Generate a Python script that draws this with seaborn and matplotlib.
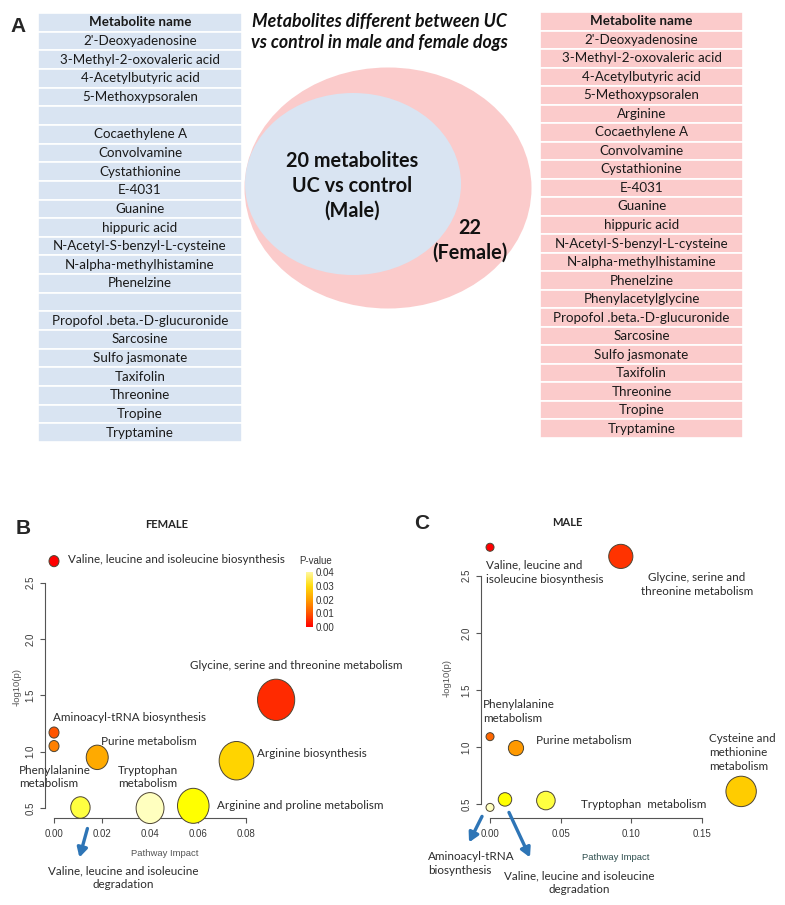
"""
Metabolites UC vs control in male / female dogs: tables, Venn and pathway bubble plots.
"""

import numpy as np
import pandas as pd
import matplotlib.pyplot as plt
import seaborn as sns
from matplotlib.patches import Ellipse, Rectangle
from matplotlib.path import Path
from matplotlib.transforms import offset_copy
from matplotlib.colors import LinearSegmentedColormap, hsv_to_rgb, to_hex, Normalize
import matplotlib as mpl

W, H = 785, 905

# ---- data -------------------------------------------------------------
male_metabolites = [
    "2'-Deoxyadenosine", "3-Methyl-2-oxovaleric acid", "4-Acetylbutyric acid",
    "5-Methoxypsoralen", "", "Cocaethylene A", "Convolvamine", "Cystathionine",
    "E-4031", "Guanine", "hippuric acid", "N-Acetyl-S-benzyl-L-cysteine",
    "N-alpha-methylhistamine", "Phenelzine", "", "Propofol .beta.-D-glucuronide",
    "Sarcosine", "Sulfo jasmonate", "Taxifolin", "Threonine", "Tropine", "Tryptamine",
]
female_metabolites = [
    "2'-Deoxyadenosine", "3-Methyl-2-oxovaleric acid", "4-Acetylbutyric acid",
    "5-Methoxypsoralen", "Arginine", "Cocaethylene A", "Convolvamine", "Cystathionine",
    "E-4031", "Guanine", "hippuric acid", "N-Acetyl-S-benzyl-L-cysteine",
    "N-alpha-methylhistamine", "Phenelzine", "Phenylacetylglycine",
    "Propofol .beta.-D-glucuronide", "Sarcosine", "Sulfo jasmonate", "Taxifolin",
    "Threonine", "Tropine", "Tryptamine",
]
male_count = 20
female_count = 22

female_pathways = [
    "Valine, leucine and isoleucine biosynthesis",
    "Glycine, serine and threonine metabolism",
    "Aminoacyl-tRNA biosynthesis",
    "Phenylalanine\nmetabolism",
    "Purine metabolism",
    "Arginine biosynthesis",
    "Arginine and proline metabolism",
    "Valine, leucine and isoleucine\ndegradation",
    "Tryptophan\nmetabolism",
]
female_impact = [0.0, 0.0925, 0.0, 0.0, 0.018, 0.076, 0.058, 0.011, 0.040]
female_logp = [2.69, 1.46, 1.17, 1.05, 0.95, 0.92, 0.52, 0.505, 0.50]

male_pathways = [
    "Valine, leucine and\nisoleucine biosynthesis",
    "Glycine, serine and\nthreonine metabolism",
    "Phenylalanine\nmetabolism",
    "Purine metabolism",
    "Cysteine and\nmethionine\nmetabolism",
    "Valine, leucine and isoleucine\ndegradation",
    "Tryptophan  metabolism",
    "Aminoacyl-tRNA\nbiosynthesis",
]
male_impact = [0.0, 0.0927, 0.0, 0.0184, 0.178, 0.0106, 0.0396, 0.0]
male_logp = [2.75, 2.67, 1.09, 0.99, 0.61, 0.54, 0.53, 0.47]

pvalue_ticks = [0.0, 0.01, 0.02, 0.03, 0.04]

# ---- style --------------------------------------------------------------
sns.set_style("white")
plt.rcParams["font.family"] = ["Lato", "DejaVu Sans"]
ARIAL = ["Liberation Sans", "DejaVu Sans"]

BLUE = "#D9E4F2"
PINK = "#FBCBCB"
ARROW = "#2E75B6"
LABEL = "#2b2b2b"

fig = plt.figure(figsize=(W / 100, H / 100), dpi=100)


def px_axes(left, top, right, bottom):
    return fig.add_axes([left / W, 1 - bottom / H, (right - left) / W, (bottom - top) / H])


def heat_colors(n):
    # same ramp as R's heat.colors()
    j = n // 4
    i = n - j
    cols = [hsv_to_rgb((h, 1, 1)) for h in np.linspace(0, 1 / 6, i)]
    if j > 0:
        cols += [hsv_to_rgb((1 / 6, s, 1)) for s in np.linspace(1 - 1 / (2 * j), 1 / (2 * j), j)]
    return [to_hex(c) for c in cols]


# ---- panel A: tables + Venn ----------------------------------------------
axA = px_axes(0, 0, W, H)
axA.set_xlim(0, W)
axA.set_ylim(H, 0)
axA.axis("off")


def draw_table(ax, names, left, right, top, bottom, color):
    rows = ["Metabolite name"] + names
    rh = (bottom - top) / len(rows)
    for i, name in enumerate(rows):
        y0 = top + i * rh
        ax.add_patch(Rectangle((left, y0), right - left, rh, facecolor=color,
                               edgecolor="white", linewidth=1.2))
        ax.text((left + right) / 2, y0 + rh / 2, name, ha="center", va="center",
                fontsize=9.6, color="#1a1a1a", fontweight="bold" if i == 0 else "normal")


draw_table(axA, male_metabolites, 38, 242, 13, 442, BLUE)
draw_table(axA, female_metabolites, 540, 743, 12, 438, PINK)

axA.add_patch(Ellipse((388, 188), 287, 241, facecolor=PINK, edgecolor="none"))
axA.add_patch(Ellipse((353, 184), 216, 182, facecolor=BLUE, edgecolor="none"))
axA.text(352, 186, f"{male_count} metabolites\nUC vs control\n(Male)", ha="center",
         va="center", fontsize=14.3, fontweight="bold", linespacing=1.3, color="#111")
axA.text(470, 240, f"{female_count}\n(Female)", ha="center", va="center",
         fontsize=14.3, fontweight="bold", linespacing=1.3, color="#111")
axA.text(379, 32, "Metabolites different between UC\nvs control in male and female dogs",
         ha="center", va="center", fontsize=12.8, fontweight="bold", style="italic",
         linespacing=1.3, color="#111")

for lab, x, y in [("A", 18, 26), ("B", 23, 528), ("C", 422, 523)]:
    axA.text(x, y, lab, ha="center", va="center", fontsize=15, fontweight="bold", family=ARIAL)
axA.text(167, 524, "FEMALE", ha="center", va="center", fontsize=8, fontweight="bold")
axA.text(567, 522, "MALE", ha="center", va="center", fontsize=8, fontweight="bold")


# ---- panels B / C: pathway bubble plots ---------------------------------
def ellipse_marker(stretch):
    circ = Path.unit_circle()
    return Path(circ.vertices * np.array([1.0, stretch]), circ.codes)


def bubble_panel(ax, pathways, impact, logp, r_min, r_max, stretch,
                 xticks, xfmt, xlim, ylim, labels, arrows):
    df = pd.DataFrame({"pathway": pathways, "impact": impact, "logp": logp})
    order = df["logp"].rank(ascending=False, method="first").astype(int) - 1
    cols = heat_colors(len(df))
    pal = {p: cols[o] for p, o in zip(df["pathway"], order)}
    r = r_min + (r_max - r_min) * np.sqrt(df["impact"] / df["impact"].max())
    s = (2 * r * max(stretch, 1.0) * 0.72) ** 2
    sns.scatterplot(data=df, x="impact", y="logp", hue="pathway", palette=pal,
                    s=s, marker=ellipse_marker(stretch), edgecolor="#4d4433",
                    linewidth=0.7, legend=False, ax=ax, zorder=3)
    ax.collections[-1].set_clip_on(False)

    ax.set_xlim(*xlim)
    ax.set_ylim(*ylim)
    ax.set_facecolor("none")
    for side in ["top", "right"]:
        ax.spines[side].set_visible(False)
    for side in ["left", "bottom"]:
        ax.spines[side].set_color("#555555")
        ax.spines[side].set_linewidth(0.8)
    ax.spines["bottom"].set_bounds(xticks[0], xticks[-1])
    ax.spines["left"].set_bounds(0.5, 2.5)
    ax.set_xticks(xticks)
    ax.set_xticklabels([xfmt.format(t) for t in xticks])
    ax.set_yticks([0.5, 1.0, 1.5, 2.0, 2.5])
    ax.set_yticklabels(["0.5", "1.0", "1.5", "2.0", "2.5"], rotation=90, va="center")
    ax.tick_params(axis="both", direction="out", length=3.6, width=0.8, color="#555555",
                   labelsize=7, labelcolor="#3a3a3a", pad=3.2, left=True, bottom=True)
    ax.tick_params(axis="x", pad=4.5)
    for t in ax.get_xticklabels() + ax.get_yticklabels():
        t.set_family(ARIAL)
    ax.set_xlabel("")
    ax.set_ylabel("")

    for (name, dx, dy, ha) in labels:
        i = pathways.index(name)
        ax.annotate(name, (impact[i], logp[i]), xytext=(dx, dy), textcoords="offset pixels",
                    ha=ha, va="center", fontsize=8.4, color=LABEL, linespacing=1.3,
                    annotation_clip=False, zorder=4)
    for (name, x0, y0, x1, y1) in arrows:
        i = pathways.index(name)
        ax.annotate("", xy=(impact[i], logp[i]),
                    xycoords=offset_copy(ax.transData, fig=fig, x=x1, y=y1, units="dots"),
                    xytext=(impact[i], logp[i]),
                    textcoords=offset_copy(ax.transData, fig=fig, x=x0, y=y0, units="dots"),
                    arrowprops=dict(arrowstyle="-|>,head_length=0.55,head_width=0.3",
                                    lw=2.4, color=ARROW, shrinkA=0, shrinkB=0),
                    annotation_clip=False)


axB = px_axes(45, 551, 285, 818)
bubble_panel(
    axB, female_pathways, female_impact, female_logp, 5, 18.6, 1.11,
    [0.0, 0.02, 0.04, 0.06, 0.08], "{:.2f}", (-0.00375, 0.0962), (0.412, 2.78),
    [
        (female_pathways[0], 14, 2, "left"),
        (female_pathways[1], -86, 34, "left"),
        (female_pathways[2], -1, 15, "left"),
        (female_pathways[3], -35, -31, "left"),
        (female_pathways[4], 4, 16, "left"),
        (female_pathways[5], 21, 7, "left"),
        (female_pathways[6], 24, 0, "left"),
        (female_pathways[7], 43, -70, "center"),
        (female_pathways[8], -32, 31, "left"),
    ],
    [(female_pathways[7], 7, -21, -1, -50)],
)
axB.text(0.5, (818 - 853) / 267, "Pathway Impact", transform=axB.transAxes, ha="center",
         va="center", fontsize=6.8, color="#555555", family=ARIAL)
axB.text((17 - 45) / 240, (818 - 687) / 267, "-log10(p)", transform=axB.transAxes,
         ha="center", va="center", rotation=90, fontsize=6.8, color="#555555", family=ARIAL)

axC = px_axes(481, 537, 751, 818)
bubble_panel(
    axC, male_pathways, male_impact, male_logp, 4, 15.2, 1.0,
    [0.0, 0.05, 0.10, 0.15], "{:.2f}", (-0.0064, 0.185), (0.377, 2.84),
    [
        (male_pathways[0], -4, -25, "left"),
        (male_pathways[1], 76, -28, "center"),
        (male_pathways[2], -7, 25, "left"),
        (male_pathways[3], 20, 8, "left"),
        (male_pathways[4], -32, 39, "left"),
        (male_pathways[5], 74, -83, "center"),
        (male_pathways[6], 35, -4, "left"),
        (male_pathways[7], -62, -56, "left"),
    ],
    [(male_pathways[7], -8, -9, -21, -35), (male_pathways[5], 4, -13, 25, -58)],
)
axC.text((616 - 481) / 270, (818 - 857) / 281, "Pathway Impact", transform=axC.transAxes,
         ha="center", va="center", fontsize=6.8, color="#2F4F4F", family=ARIAL)
axC.text((447 - 481) / 270, (818 - 678) / 281, "-log10(p)", transform=axC.transAxes,
         ha="center", va="center", rotation=90, fontsize=6.8, color="#555555", family=ARIAL)

# p-value colour key
axK = px_axes(306, 572, 313, 627)
pcmap = LinearSegmentedColormap.from_list(
    "pheat", ["#FF0000", "#FF5500", "#FFA000", "#FFDC10", "#FFF8A0"])
cb = mpl.colorbar.ColorbarBase(axK, cmap=pcmap, norm=Normalize(0, 0.04), ticks=pvalue_ticks)
cb.outline.set_visible(False)
cb.ax.set_yticklabels([f"{t:.2f}" for t in pvalue_ticks])
cb.ax.tick_params(length=0, labelsize=7, pad=2, labelcolor="#333333")
for t in cb.ax.get_yticklabels():
    t.set_family(ARIAL)
axA.text(316, 561, "P-value", ha="center", va="center", fontsize=7, color="#333333",
         family=ARIAL)

fig.savefig("out.png", dpi=100)
